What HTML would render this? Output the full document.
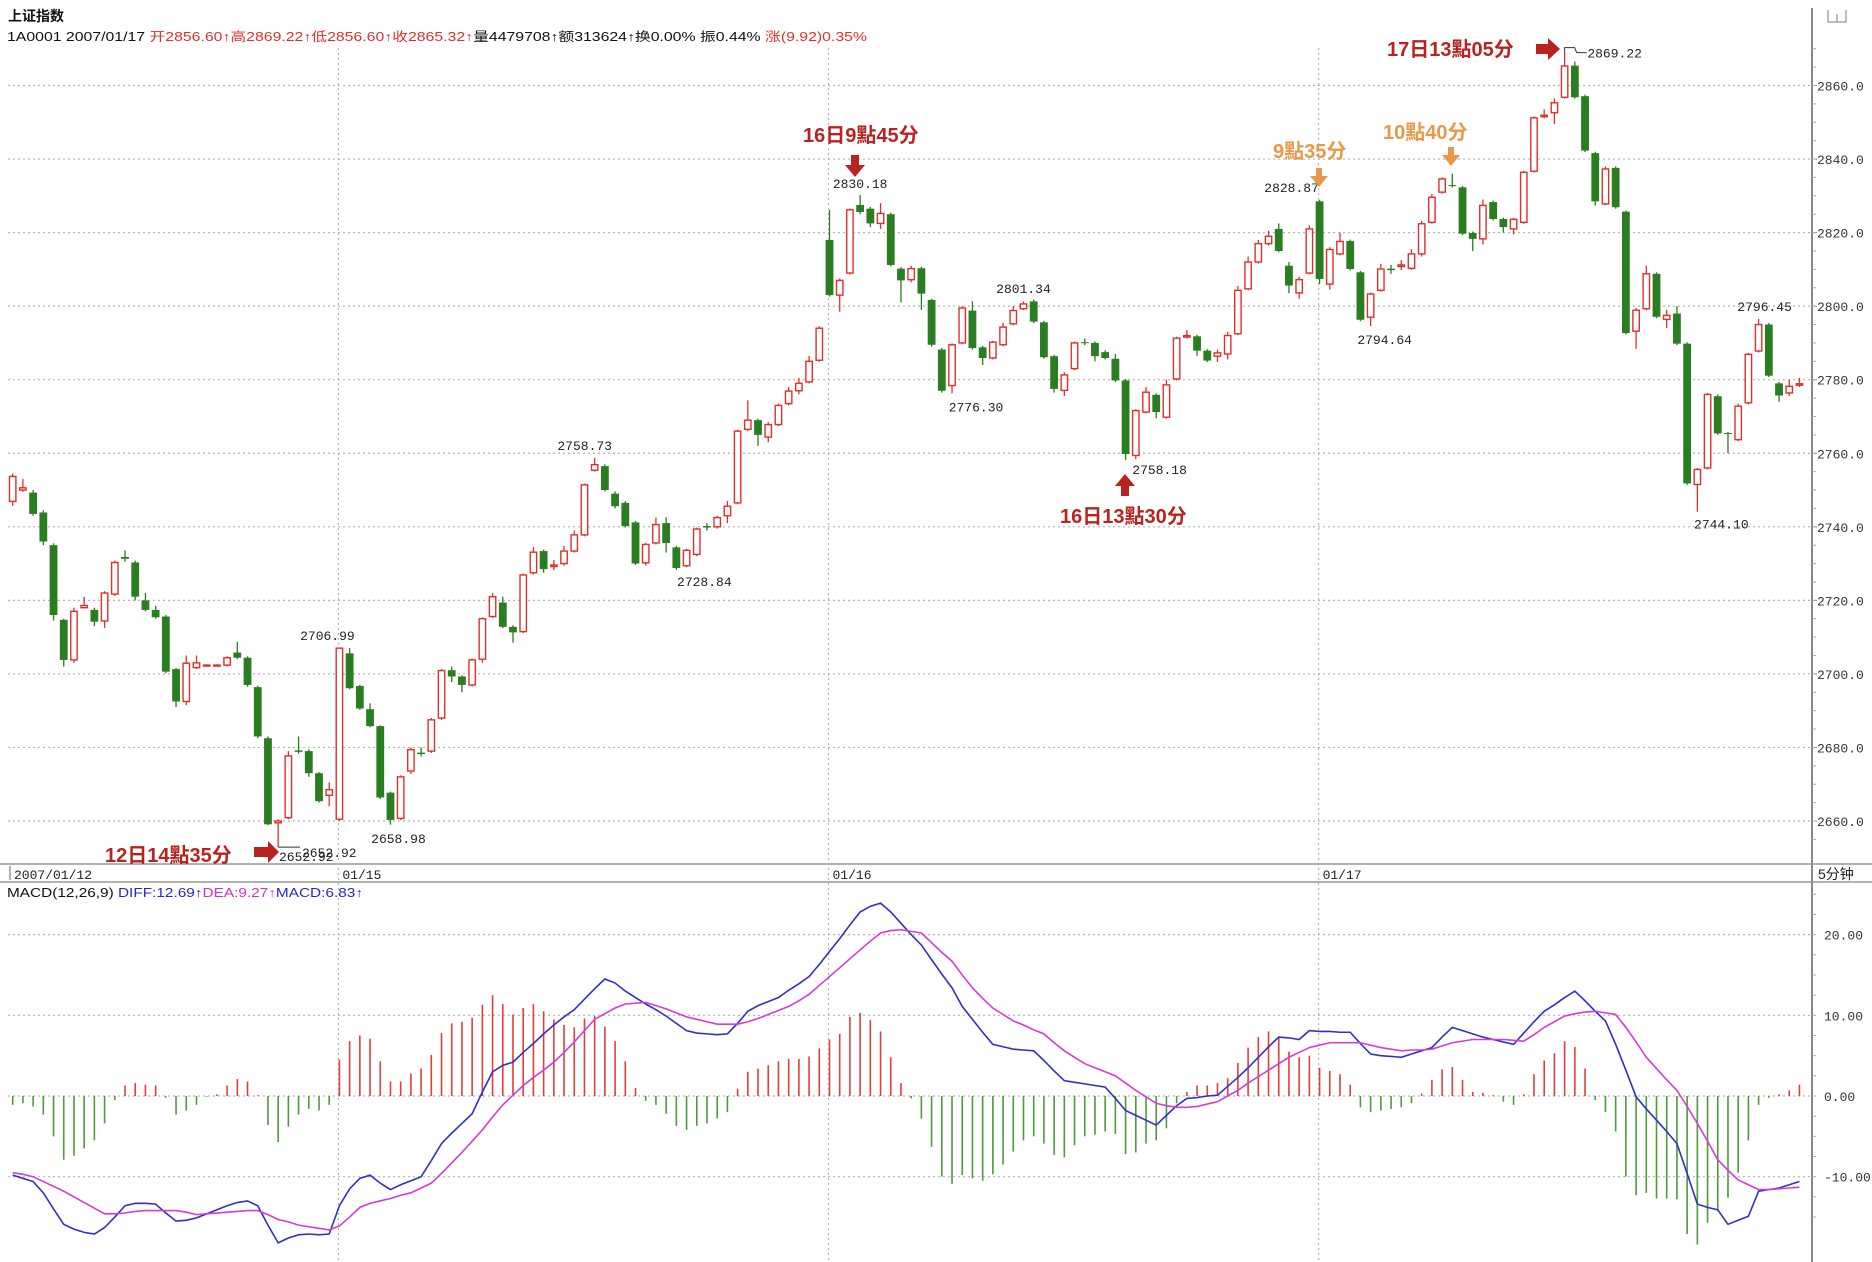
<!DOCTYPE html>
<html><head><meta charset="utf-8"><style>
html,body{margin:0;padding:0;background:#fff;}
svg{display:block;font-family:"Liberation Mono","Noto Sans CJK SC",monospace;}
</style></head><body>
<svg id="chart" xmlns="http://www.w3.org/2000/svg" width="1872" height="1262" viewBox="0 0 1872 1262">
<rect x="0" y="0" width="1872" height="1262" fill="#fff"/>
<text x="8" y="21" font-size="14" font-weight="bold" font-family="'Liberation Sans','Noto Sans CJK SC',sans-serif" fill="#111">上证指数</text>
<text x="7" y="41" font-size="12.5" textLength="860" lengthAdjust="spacingAndGlyphs" font-family="'Liberation Sans','Noto Sans CJK SC',sans-serif"><tspan fill="#111">1A0001 2007/01/17 </tspan><tspan fill="#e0302c">开2856.60↑高2869.22↑低2856.60↑收2865.32↑</tspan><tspan fill="#111">量4479708↑额313624↑换0.00% 振0.44% </tspan><tspan fill="#e0302c">涨(9.92)0.35%</tspan></text>
<g><path d="M1828 10 v12 h18 v-12 M1837 14 v8" fill="none" stroke="#999" stroke-width="1.3"/></g>
<line x1="1812" y1="8" x2="1812" y2="1262" stroke="#888" stroke-width="2"/>
<line x1="0" y1="864" x2="1872" y2="864" stroke="#999" stroke-width="1.5"/>
<line x1="0" y1="882" x2="1872" y2="882" stroke="#999" stroke-width="1.5"/>
<line x1="10" y1="866" x2="10" y2="880" stroke="#666" stroke-width="1"/>
<g id="grid"></g>
<g id="axis"></g>
<g id="dates"></g>
<g id="candles"></g>
<g id="macd"></g>
<g id="labels"></g>
<text x="7" y="897" font-size="12.5" textLength="356" lengthAdjust="spacingAndGlyphs" font-family="'Liberation Sans',sans-serif"><tspan fill="#111">MACD(12,26,9) </tspan><tspan fill="#2828d0">DIFF:12.69↑</tspan><tspan fill="#d030d0">DEA:9.27↑</tspan><tspan fill="#2828d0">MACD:6.83↑</tspan></text>
<g id="notes" font-family="'Liberation Sans','Noto Sans CJK SC',sans-serif" font-weight="bold" font-size="20">
<text x="105" y="862" fill="#b8231f">12日14點35分</text>
<polygon points="254,847 268,847 268,841 279,852 268,863 268,857 254,857" fill="#b8231f"/>
<text x="803" y="142" fill="#b8231f">16日9點45分</text>
<polygon points="851,155 859,155 859,165 865,165 855,177 845,165 851,165" fill="#b8231f"/>
<text x="1060" y="523" fill="#b8231f">16日13點30分</text>
<polygon points="1121,496 1129,496 1129,486 1135,486 1125,474 1115,486 1121,486" fill="#b8231f"/>
<text x="1273" y="158" fill="#e8984a">9點35分</text>
<polygon points="1316,168 1322,168 1322,176 1328,176 1319,187 1310,176 1316,176" fill="#e8984a"/>
<text x="1383" y="139" fill="#e8984a">10點40分</text>
<polygon points="1448,147 1454,147 1454,155 1460,155 1451,166 1442,155 1448,155" fill="#e8984a"/>
<text x="1387" y="56" fill="#b8231f">17日13點05分</text>
<polygon points="1536,44 1548,44 1548,38 1560,49 1548,60 1548,54 1536,54" fill="#b8231f"/>
</g>
</svg>
<script>
const opens=[2746.9,2750.0,2749.3,2743.9,2735,2714.7,2703.8,2718,2717.4,2714.4,2721.7,2731.8,2730.3,2720,2717.4,2715.6,2701.3,2692.5,2701.7,2702.3,2702.3,2702.4,2705.8,2704.4,2696.4,2682.5,2659.5,2660.9,2679.2,2679,2673,2667,2660.5,2705.6,2696.7,2690.4,2685.8,2667.7,2660.7,2673.6,2678.6,2679,2688,2701,2699.3,2697,2704,2715.6,2719.4,2712.8,2711.5,2727.5,2733.4,2729.2,2730,2733.4,2737.8,2755.4,2756.5,2749,2746.5,2741.2,2730.2,2735.6,2741,2734.4,2729.4,2732.5,2740.2,2740,2743,2746.5,2766.5,2769,2764.4,2767.8,2773.5,2777,2779.4,2785.3,2818,2803,2809,2827.5,2826.5,2822.5,2825,2810.2,2807.2,2810.3,2801.7,2788.2,2778.4,2790,2798.8,2788.8,2785.9,2789.5,2795.2,2799.3,2801.3,2795.6,2786.4,2777.1,2783,2790.2,2790,2787.5,2785.7,2779.8,2759.4,2771.2,2775.9,2769.8,2780.2,2791.6,2791.8,2787.9,2786.4,2787,2792.5,2804.7,2812,2817,2821,2811,2803.6,2809,2828.5,2806,2814.2,2817.7,2809.2,2797,2804.3,2810.2,2810.8,2810.3,2814.2,2822.8,2831,2832.9,2832.3,2819.9,2818.3,2828.3,2823.7,2821,2822.8,2836.7,2851.5,2852.6,2856.8,2865.4,2857.1,2841.6,2827.8,2837.6,2825.7,2793.2,2799.3,2808.8,2796.4,2798,2789.8,2751.5,2756,2775.5,2765.5,2763.7,2773.7,2787.8,2795,2779,2776.4,2778.5];
const closes=[2753.7,2750.6,2743.5,2736,2716,2703.8,2717,2718.6,2714.2,2722,2730.3,2731.3,2721,2717.4,2715.4,2700.6,2692.5,2702.9,2703,2702.4,2702.4,2704.4,2704.4,2697,2683,2659.1,2660,2677.7,2678.8,2673,2665.4,2668.5,2707,2696.1,2690.6,2685.8,2666.4,2660.3,2672,2679.4,2678.2,2687.5,2700.9,2699.3,2697,2703.8,2715,2721,2712.8,2711.3,2726.9,2733.1,2728.5,2729.6,2733.4,2737.8,2751.4,2756.9,2750,2745.6,2740.2,2730,2735.2,2740.6,2735.6,2728.8,2733.6,2739.4,2739.8,2742.5,2745.6,2766,2769,2765,2767.8,2773,2776.9,2779,2785,2794,2803,2807,2826.2,2825.6,2822.5,2825.2,2811.2,2807,2810.2,2803.4,2789.5,2777,2789.5,2799.5,2788.6,2785.9,2790.2,2794.3,2798.8,2800.6,2795.8,2786.1,2777.5,2781.3,2790,2790.0,2786.4,2785.9,2779.8,2759.8,2771.6,2776.6,2771.2,2778.6,2791.3,2792,2787.9,2785.2,2787.3,2792,2804.3,2812,2817,2819,2815,2805.6,2807.2,2821,2807.4,2815.4,2817.6,2810.1,2796.3,2803.3,2810.1,2809.8,2811.2,2814.2,2822.4,2829.6,2834.6,2832.7,2819.7,2818.3,2827.4,2823.7,2821.5,2823.6,2836.4,2851.2,2851.9,2855.3,2865.3,2856.8,2842.3,2828.5,2837.3,2826.9,2792.7,2798.9,2808.8,2797.1,2797.5,2789.8,2751.8,2755.6,2776,2765.4,2765.3,2772.8,2786.9,2795,2781.1,2775.7,2778.2,2778.9];
const highs=[2754.5,2753,2750,2744.5,2735.5,2715,2718,2721,2718,2722.5,2730.8,2733.6,2730.8,2722,2718.5,2716,2701.6,2705,2705,2702.6,2702.6,2704.8,2708.7,2704.8,2696.8,2683,2660.5,2679,2683,2679.5,2673.3,2670.5,2707,2707,2697,2692,2686,2668,2672.4,2680,2680,2688,2701.3,2702,2699.6,2704.2,2715.4,2722,2721,2713.2,2727.3,2734.5,2733.8,2731,2734.8,2739,2751.8,2758.7,2757,2749.6,2747,2741.6,2735.6,2742.5,2742.6,2734.8,2734,2739.8,2741,2743,2747,2766.4,2774.4,2769.4,2768.5,2773.5,2778,2780.5,2786.5,2794.5,2826.2,2807.5,2826.6,2830.2,2827,2828,2825.4,2810.6,2811,2810.7,2802,2788.6,2789.9,2800,2801.3,2789.2,2790.6,2795.5,2800,2801.3,2801.8,2796,2786.8,2782,2790.4,2791.2,2790.4,2788,2787,2780.2,2772,2778,2776.3,2780,2791.7,2793.5,2792.2,2788.3,2788.2,2793,2805.5,2813.5,2818,2820.5,2822.5,2812,2808,2822,2828.9,2816,2820,2818.1,2809.6,2803.7,2811.5,2811.2,2812.5,2815.5,2823.2,2830.5,2835,2836,2832.7,2820.3,2829,2828.7,2824.1,2824,2836.8,2851.6,2853.5,2856.5,2869.2,2866.5,2857.5,2842,2838,2838,2826,2799.5,2811,2809.2,2799,2800,2790.2,2756,2776.4,2776,2765.8,2773.5,2787.3,2796.5,2795.4,2779.4,2780,2780.5];
const lows=[2745.7,2749.5,2743,2735,2714.5,2702,2703,2717.8,2713,2712.5,2721.2,2730.5,2720,2717,2715,2700.2,2691,2691.5,2701.3,2702.1,2702.1,2702,2704,2696.5,2682.5,2658.9,2652.9,2660.5,2678.3,2672,2665,2664,2660,2695.8,2690.2,2685.5,2666,2659,2660.3,2672.8,2677.5,2678.5,2687.5,2697.8,2695,2696.6,2703,2715.2,2712.4,2708.5,2711.1,2727,2727.5,2728.2,2729.4,2733,2737.4,2755,2749.6,2745,2739.8,2729.6,2729.5,2735.2,2733,2728.3,2729,2732,2739,2739.5,2741,2746.1,2766,2762,2763,2767.4,2773,2776,2779,2784.9,2802.6,2798.5,2808.6,2825,2821.5,2821,2810.8,2801,2806.5,2799,2789,2776.5,2776.3,2789.6,2788.2,2784,2785.5,2789.1,2794.8,2798.9,2795.4,2785.7,2776.5,2775.6,2782.6,2789.4,2785,2785.5,2779.4,2758.2,2758.4,2770.8,2769.5,2769.4,2779.8,2791.2,2786.5,2784.8,2784.8,2785.5,2792.1,2804.3,2811.6,2816.5,2814.6,2803.5,2802,2808.6,2806,2804.5,2813.8,2809.7,2795.9,2794.6,2803.9,2808.8,2809.8,2809.9,2813.5,2822.4,2830.6,2832.3,2819.3,2815,2816.8,2823.3,2820,2819.5,2822.4,2836.3,2851.1,2849.5,2856.4,2856.4,2841.9,2827.3,2827.4,2826.5,2792.3,2788.4,2798.9,2796.7,2794,2789.4,2751.4,2744.1,2755.6,2765,2760,2763.3,2773.3,2787.4,2780.7,2774,2775.6,2778];
const macdHist=[-1.1,-0.9,-1.3,-2.3,-5.0,-7.9,-7.4,-6.5,-5.5,-3.4,-0.5,1.3,1.6,1.4,1.3,-0.2,-2.3,-1.8,-1.1,-0.1,0.2,1.3,2.1,1.8,0.1,-3.6,-5.7,-3.8,-2.3,-1.6,-1.8,-1.1,4.5,6.8,7.5,7.1,4.3,1.8,1.8,2.8,3.4,5.1,7.8,9.0,9.2,9.7,11.3,12.5,11.4,10.1,10.9,11.4,10.5,9.5,8.8,8.5,9.6,9.9,8.6,6.8,4.3,1.0,-0.6,-1.1,-2.2,-3.7,-4.2,-3.7,-3.4,-2.8,-2.0,0.9,3.0,3.4,3.8,4.3,4.6,4.6,4.9,5.9,7.0,7.7,9.8,10.3,9.4,8.0,4.8,1.6,-0.3,-2.8,-6.3,-10,-10.9,-9.8,-10.2,-10.5,-9.7,-8.5,-6.9,-5.5,-5.0,-5.9,-7.3,-7.6,-6.1,-5.0,-4.8,-4.4,-4.7,-7.2,-7.0,-5.9,-5.5,-4.0,-0.9,0.5,1.3,1.3,1.6,2.2,4.1,6.0,7.3,8.0,7.3,5.5,4.8,5.0,3.5,3.1,2.7,1.4,-1.4,-2.0,-1.8,-1.6,-1.4,-0.9,0.3,2.0,3.3,3.6,2.0,0.5,0.4,0.1,-0.7,-1.1,0.2,2.7,4.4,5.3,6.8,6.1,3.4,-0.5,-2.0,-4.4,-10.0,-12.3,-12.0,-12.7,-12.7,-12.8,-17.1,-18.4,-15.7,-14.3,-12.6,-9.5,-5.5,-1.1,-0.2,0.2,0.7,1.4];
const diffLine=[-9.8,-10.2,-10.6,-12.0,-14.0,-15.9,-16.5,-16.9,-17.1,-16.3,-15.0,-13.6,-13.3,-13.3,-13.4,-14.5,-15.5,-15.4,-15.1,-14.6,-14.1,-13.6,-13.2,-13.0,-13.6,-16.0,-18.2,-17.6,-17.2,-17.1,-17.2,-17.1,-13.6,-11.5,-10.2,-9.8,-10.8,-11.6,-11.0,-10.5,-10.0,-8.0,-5.9,-4.6,-3.4,-2.2,0.5,3.0,3.8,4.2,5.4,6.5,7.7,8.8,9.8,10.7,12.0,13.3,14.5,14.0,13.0,12.2,11.4,10.7,9.9,9.0,8.1,7.8,7.7,7.6,7.7,9.0,10.5,11.2,11.7,12.2,13.1,13.9,14.8,16.3,17.9,19.5,21.2,22.8,23.5,23.9,22.8,21.4,20.0,18.7,16.9,15.1,13.4,11.1,9.5,7.9,6.4,6.1,5.8,5.7,5.6,4.4,3.1,1.9,1.7,1.5,1.3,1.1,-0.3,-1.8,-2.4,-3.0,-3.6,-2.4,-1.2,-0.3,-0.2,0.0,0.1,1.2,2.3,3.5,4.8,6.1,7.3,7.2,7.0,8.1,8.0,8.0,7.9,7.9,6.5,5.2,5.0,4.9,4.8,5.2,5.6,6.0,7.3,8.5,8.1,7.7,7.3,7.0,6.7,6.4,7.8,9.2,10.5,11.3,12.2,13.0,11.8,10.5,9.3,6.4,3.2,-0.1,-1.6,-3.0,-4.4,-5.9,-9.6,-13.4,-13.8,-14.1,-15.9,-15.4,-14.9,-11.8,-11.6,-11.4,-11.0,-10.6];
const deaLine=[-9.5,-9.7,-10.0,-10.6,-11.2,-11.8,-12.5,-13.2,-13.9,-14.6,-14.6,-14.5,-14.3,-14.2,-14.2,-14.2,-14.2,-14.4,-14.7,-14.6,-14.5,-14.4,-14.3,-14.2,-14.2,-14.7,-15.3,-15.6,-16.0,-16.2,-16.4,-16.6,-16.1,-15.0,-13.8,-13.3,-13.0,-12.7,-12.3,-12.0,-11.4,-10.8,-9.6,-8.3,-7.0,-5.6,-4.2,-2.6,-1.1,0.1,1.3,2.3,3.2,4.2,5.4,6.7,8.1,9.5,10.2,10.9,11.4,11.5,11.6,11.2,10.8,10.3,9.8,9.5,9.2,8.9,8.9,8.9,9.2,9.6,10.1,10.6,11.1,11.8,12.6,13.7,14.8,15.9,17.0,18.1,19.2,20.2,20.5,20.6,20.4,20.2,19.0,17.8,16.7,15.0,13.4,12.1,10.9,10.1,9.3,8.8,8.2,7.7,6.6,5.6,4.8,4.0,3.5,3.0,2.5,1.6,0.7,-0.1,-0.9,-1.2,-1.4,-1.4,-1.3,-1.0,-0.7,0.0,0.7,1.6,2.4,3.2,4.0,4.8,5.4,6.0,6.3,6.6,6.6,6.6,6.6,6.3,6.0,5.8,5.6,5.7,5.7,5.8,6.2,6.6,6.8,7.0,7.0,7.0,7.0,6.9,6.8,7.6,8.5,9.2,9.9,10.2,10.4,10.5,10.3,10.1,8.5,6.7,4.8,3.4,2.0,0.7,-1.3,-3.4,-5.6,-7.9,-9.2,-10.4,-11.0,-11.6,-11.6,-11.5,-11.4,-11.3];
const priceTicks=[2660,2680,2700,2720,2740,2760,2780,2800,2820,2840,2860];
const macdTicks=[20,10,0,-10];
const dayLabels=["01/15","01/16","01/17"];
const dayStartIdx=[32,80,128];
const priceMarks=[["2830.18",83],["2801.34",99],["2776.30",92],["2758.73",57],["2728.84",65],["2706.99",32],["2658.98",37],["2758.18",109],["2828.87",128],["2794.64",133],["2869.22",152],["2796.45",171],["2744.10",165]];

const NS='http://www.w3.org/2000/svg';
const RED='#e0302c',GREEN='#2b7d21';
function xOf(i){return 12.7+10.21*i;}
function yP(p){return 821-(p-2660)*3.6775;}
function yM(v){return 1096-v*8.07;}
function mk(tag,attrs,parent){const e=document.createElementNS(NS,tag);for(const k in attrs)e.setAttribute(k,attrs[k]);parent.appendChild(e);return e;}
const grid=document.getElementById('grid'),axis=document.getElementById('axis'),dates=document.getElementById('dates');
const cg=document.getElementById('candles'),mg=document.getElementById('macd'),lg=document.getElementById('labels');

priceTicks.forEach(p=>{
  const l=mk('line',{x1:8,x2:1810,y1:yP(p),y2:yP(p),stroke:'#b4b4b4','stroke-width':1.2,'stroke-dasharray':'2,3'},grid);
  
  
  const t=mk('text',{x:1817,y:yP(p)+5,'font-size':13,fill:'#333'},axis);
  t.textContent=p.toFixed(1);
  
  
  mk('line',{x1:1812,x2:1817,y1:yP(p),y2:yP(p),stroke:'#888'},axis);
});
for(let p=2655;p<=2870;p+=5){const m=mk('line',{x1:1812,x2:1816,y1:yP(p),y2:yP(p),stroke:'#aaa'},axis);}
macdTicks.forEach(v=>{
  const l=mk('line',{x1:8,x2:1810,y1:yM(v),y2:yM(v),stroke:'#b4b4b4','stroke-width':1.2,'stroke-dasharray':'2,3'},grid);
  
  
  const t=mk('text',{x:1824,y:yM(v)+5,'font-size':13,fill:'#333'},axis);
  t.textContent=v.toFixed(2);
  
  
});
for(let v=-15;v<=25;v+=2.5){const m=mk('line',{x1:1812,x2:1816,y1:yM(v),y2:yM(v),stroke:'#aaa'},axis);}
dayStartIdx.forEach((idx,k)=>{
  const x=xOf(idx)-1;
  const l=mk('line',{x1:x,x2:x,y1:48,y2:1262,stroke:'#b4b4b4','stroke-width':1.2,'stroke-dasharray':'2,3'},grid);
  
  
  const t=mk('text',{x:x+4,y:879,'font-size':13,fill:'#222'},dates);
  t.textContent=dayLabels[k];
  
  
});
const d0=mk('text',{x:14,y:879,'font-size':13,fill:'#222'},dates);d0.textContent='2007/01/12';


const per=mk('text',{x:1818,y:879,'font-size':14,fill:'#222','font-family':"'Liberation Sans','Noto Sans CJK SC',sans-serif"},dates);per.textContent='5分钟';



opens.forEach((o,i)=>{
  const c=closes[i],up=c>=o,col=up?RED:GREEN,x=xOf(i);
  const g=mk('g',{},cg);
  
  
  mk('line',{x1:x,x2:x,y1:yP(highs[i]),y2:yP(lows[i]),stroke:col,'stroke-width':1.3},g);
  const top=yP(Math.max(o,c)),h=Math.max(1,yP(Math.min(o,c))-top);
  if(up) mk('rect',{x:x-3.2,y:top,width:6.4,height:h,fill:'#fff',stroke:col,'stroke-width':1.4},g);
  else mk('rect',{x:x-3.9,y:top,width:7.8,height:h,fill:col},g);
});

macdHist.forEach((v,i)=>{
  const x=xOf(i);
  const b=mk('line',{x1:x,x2:x,y1:yM(0),y2:yM(v),stroke:v>=0?'#e0403a':'#4f9a3c','stroke-width':1.6},mg);
  
  
});
const dp=mk('polyline',{points:diffLine.map((v,i)=>xOf(i)+','+yM(v)).join(' '),fill:'none',stroke:'#3030c8','stroke-width':1.6},mg);


const ep=mk('polyline',{points:deaLine.map((v,i)=>xOf(i)+','+yM(v)).join(' '),fill:'none',stroke:'#d43cd4','stroke-width':1.6},mg);



const offs={"2830.18":[0,-7],"2801.34":[0,-8],"2776.30":[24,18],"2758.73":[-10,-8],"2728.84":[28,18],"2706.99":[-12,-8],"2658.98":[8,18],"2758.18":[34,14],"2828.87":[-28,-8],"2794.64":[14,18],"2869.22":[50,6],"2796.45":[6,-8],"2744.10":[24,17]};
priceMarks.forEach(([txt,i])=>{
  const p=parseFloat(txt),o=offs[txt]||[0,-8];
  const t=mk('text',{x:xOf(i)+o[0],y:yP(p)+o[1],'font-size':13,fill:'#222','text-anchor':'middle'},lg);
  t.textContent=txt;
  
  
});
mk('polyline',{points:`${xOf(152)},${yP(2869.22)} ${xOf(152)},${yP(2869.22)-4} ${xOf(152)+10},${yP(2869.22)-4} ${xOf(152)+12},${yP(2869.22)+1} ${xOf(152)+22},${yP(2869.22)+1}`,fill:'none',stroke:'#333'},lg);
const a=mk('text',{x:279,y:861,'font-size':13,fill:'#222'},lg);a.textContent='2652.92';


const b2=mk('text',{x:302,y:857,'font-size':13,fill:'#222'},lg);b2.textContent='2652.92';


mk('line',{x1:xOf(26),x2:300,y1:yP(2652.9),y2:yP(2652.9),stroke:'#333'},lg);
</script>
</body></html>
